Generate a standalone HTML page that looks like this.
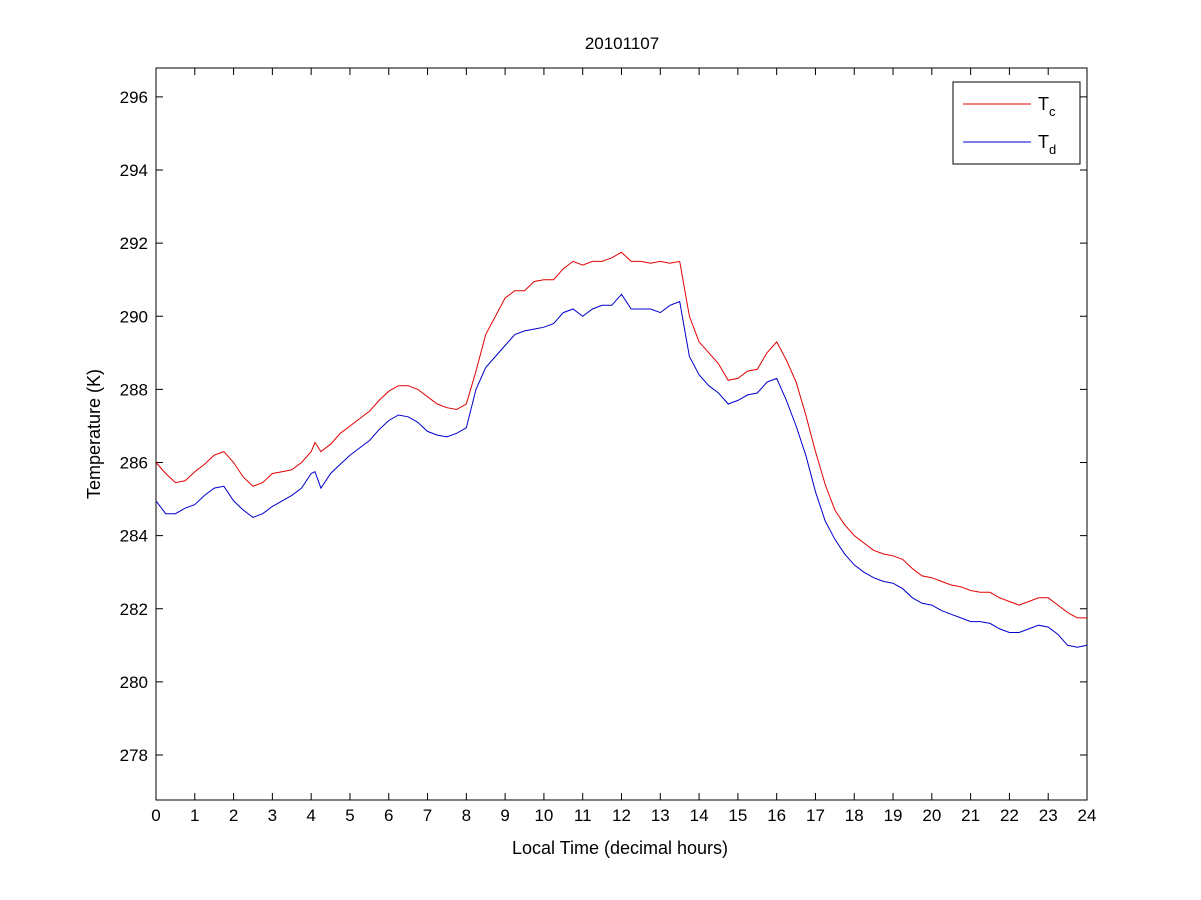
<!DOCTYPE html>
<html><head><meta charset="utf-8"><style>
body{margin:0;background:#fff;}
svg{display:block;font-family:"Liberation Sans",sans-serif;}
</style></head><body>
<svg id="chart" width="1201" height="900">
<rect width="1201" height="900" fill="#fff"/>
</svg>
<script>
const hours=[0,0.25,0.5,0.75,1,1.25,1.5,1.75,2,2.25,2.5,2.75,3,3.25,3.5,3.75,4,4.1,4.25,4.5,4.75,5,5.25,5.5,5.75,6,6.25,6.5,6.75,7,7.25,7.5,7.75,8,8.25,8.5,8.75,9,9.25,9.5,9.75,10,10.25,10.5,10.75,11,11.25,11.5,11.75,12,12.25,12.5,12.75,13,13.25,13.5,13.75,14,14.25,14.5,14.75,15,15.25,15.5,15.75,16,16.25,16.5,16.75,17,17.25,17.5,17.75,18,18.25,18.5,18.75,19,19.25,19.5,19.75,20,20.25,20.5,20.75,21,21.25,21.5,21.75,22,22.25,22.5,22.75,23,23.25,23.5,23.75,24];
const tc=[286.0,285.7,285.45,285.5,285.75,285.95,286.2,286.3,286.0,285.6,285.35,285.45,285.7,285.75,285.8,286.0,286.3,286.55,286.3,286.5,286.8,287.0,287.2,287.4,287.7,287.95,288.1,288.1,288.0,287.8,287.6,287.5,287.45,287.6,288.5,289.5,290.0,290.5,290.7,290.7,290.95,291.0,291.0,291.3,291.5,291.4,291.5,291.5,291.6,291.75,291.5,291.5,291.45,291.5,291.45,291.5,290.0,289.3,289.0,288.7,288.25,288.3,288.5,288.55,289.0,289.3,288.8,288.2,287.3,286.3,285.4,284.7,284.3,284.0,283.8,283.6,283.5,283.45,283.35,283.1,282.9,282.85,282.75,282.65,282.6,282.5,282.45,282.45,282.3,282.2,282.1,282.2,282.3,282.3,282.1,281.9,281.75,281.75];
const td=[284.95,284.6,284.6,284.75,284.85,285.1,285.3,285.35,284.95,284.7,284.5,284.6,284.8,284.95,285.1,285.3,285.7,285.75,285.3,285.7,285.95,286.2,286.4,286.6,286.9,287.15,287.3,287.25,287.1,286.85,286.75,286.7,286.8,286.95,288.0,288.6,288.9,289.2,289.5,289.6,289.65,289.7,289.8,290.1,290.2,290.0,290.2,290.3,290.3,290.6,290.2,290.2,290.2,290.1,290.3,290.4,288.9,288.4,288.1,287.9,287.6,287.7,287.85,287.9,288.2,288.3,287.7,287.0,286.2,285.2,284.4,283.9,283.5,283.2,283.0,282.85,282.75,282.7,282.55,282.3,282.15,282.1,281.95,281.85,281.75,281.65,281.65,281.6,281.45,281.35,281.35,281.45,281.55,281.5,281.3,281.0,280.95,281.0];
const xTicks=[0,1,2,3,4,5,6,7,8,9,10,11,12,13,14,15,16,17,18,19,20,21,22,23,24];
const yTicks=[278,280,282,284,286,288,290,292,294,296];

const L=156,R=1087,T=68,B=800,Y0=276.77,Y1=296.79;
const sx=v=>L+(v-0)/24*(R-L);
const sy=v=>B-(v-Y0)/(Y1-Y0)*(B-T);
const svg=document.getElementById('chart');
const NS='http://www.w3.org/2000/svg';
function mk(tag,attrs,text){const e=document.createElementNS(NS,tag);for(const k in attrs)e.setAttribute(k,attrs[k]);if(text!==undefined)e.textContent=text;svg.appendChild(e);return e;}

let e=mk('rect',{x:L,y:T,width:R-L,height:B-T,fill:'#fff',stroke:'#000','stroke-width':1});



xTicks.forEach(t=>{const x=sx(t);
 let l=mk('path',{d:`M${x},${B}v-7M${x},${T}v7`,stroke:'#000'});
 
 
 let tx=mk('text',{x:x,y:B+21,'text-anchor':'middle','font-size':17},t);
 
 
});
yTicks.forEach(t=>{const y=sy(t);
 let l=mk('path',{d:`M${L},${y}h7M${R},${y}h-7`,stroke:'#000'});
 
 
 let tx=mk('text',{x:L-8,y:y+6,'text-anchor':'end','font-size':17},t);
 
 
});

function line(arr,color,name){
 const d=hours.map((h,i)=>(i?'L':'M')+sx(h).toFixed(1)+','+sy(arr[i]).toFixed(1)).join('');
 let p=mk('path',{d:d,fill:'none',stroke:color,'stroke-width':1});
 
 
}
line(tc,'#e00000','tc-line');
line(td,'#0000cc','td-line');

e=mk('text',{x:622,y:49,'text-anchor':'middle','font-size':17},'20101107');


e=mk('text',{x:620,y:854,'text-anchor':'middle','font-size':18},'Local Time (decimal hours)');


e=mk('text',{x:100,y:434,'text-anchor':'middle','font-size':18,transform:'rotate(-90 100 434)'},'Temperature (K)');



e=mk('rect',{x:953,y:82,width:127,height:82,fill:'#fff',stroke:'#000'});


e=mk('path',{d:'M963,104h68',stroke:'#e00000'});


e=mk('path',{d:'M963,142h68',stroke:'#0000cc'});


e=mk('text',{x:1038,y:110,'font-size':18});
e.innerHTML='T<tspan font-size="13" dy="6">c</tspan>';


e=mk('text',{x:1038,y:148,'font-size':18});
e.innerHTML='T<tspan font-size="13" dy="6">d</tspan>';


</script>
</body></html>
